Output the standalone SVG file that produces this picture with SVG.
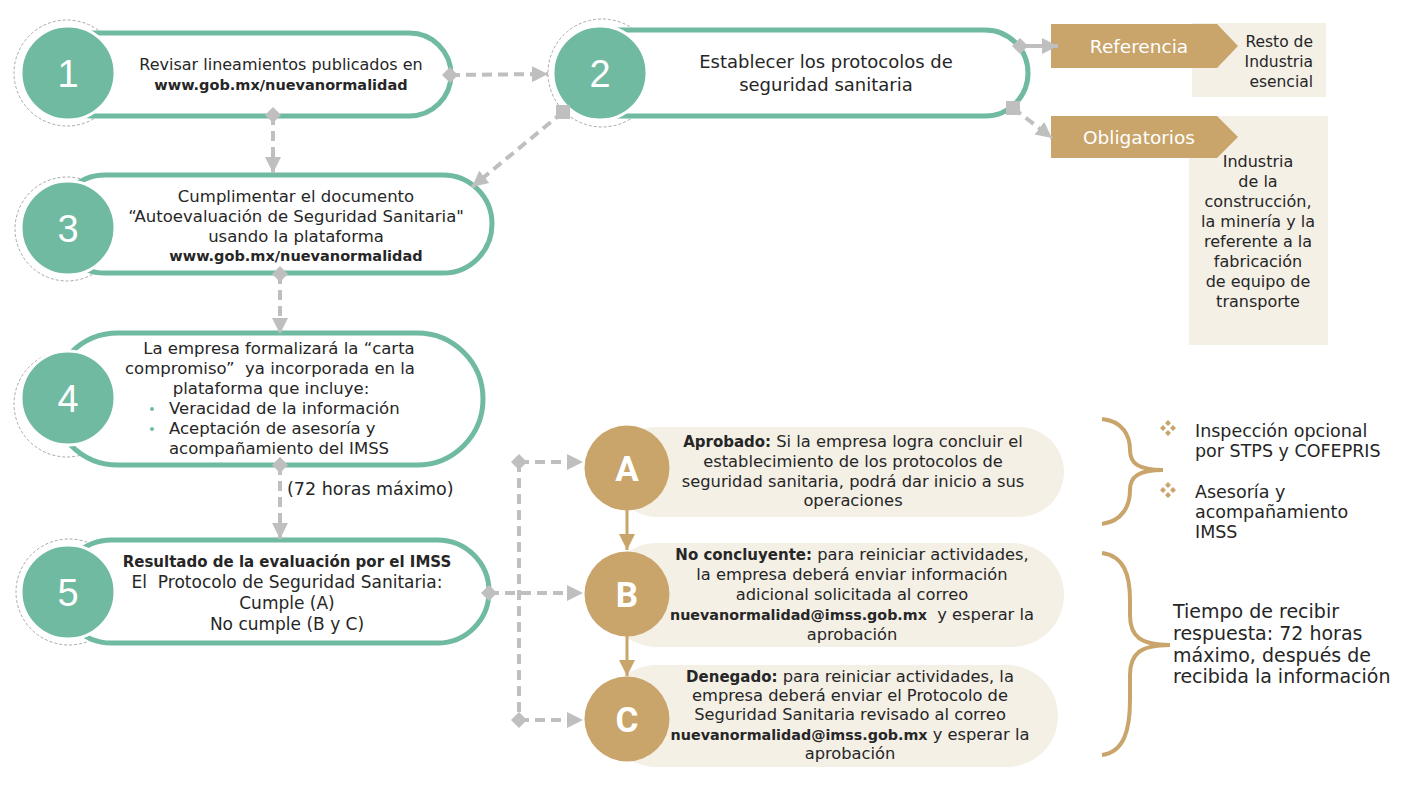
<svg xmlns="http://www.w3.org/2000/svg" width="1417" height="797" viewBox="0 0 1417 797">
<style>
.pill{fill:#fff;stroke:#6fbaa0;stroke-width:5}
.num{fill:#6fbaa0;stroke:#fff;stroke-width:3}
.ring{fill:none;stroke:#a9a9a9;stroke-width:1;stroke-dasharray:3 2}
.numt{font-family:"Liberation Sans",Arial,sans-serif;font-size:38px;fill:#fff;text-anchor:middle}
.t{font-family:"DejaVu Sans",sans-serif;fill:#262626}
.c{text-anchor:middle}
.e{text-anchor:end}
.b{font-weight:bold}
.conn{fill:none;stroke:#bfbfbf;stroke-width:4;stroke-dasharray:10 6}
.solid{fill:none;stroke:#bfbfbf;stroke-width:4}
.gpill{fill:#f4f0e6}
.gold{fill:#c9a56b}
.box{fill:#f4f0e6}
.lett{font-family:Roboto,"DejaVu Sans",sans-serif;font-weight:bold;font-size:35px;fill:#fff;text-anchor:middle}
.ban{font-family:"DejaVu Sans",sans-serif;font-size:18.5px;fill:#fff;text-anchor:middle}
.brace{fill:none;stroke:#c9a56b;stroke-width:4}
.garrow{fill:none;stroke:#c9a56b;stroke-width:3}
</style>
<defs>
<marker id="arr" markerUnits="userSpaceOnUse" markerWidth="16" markerHeight="16" refX="16" refY="8" orient="auto"><path d="M0,0 L16,8 L0,16 z" fill="#bfbfbf"/></marker>
<marker id="dia" markerUnits="userSpaceOnUse" markerWidth="16" markerHeight="16" refX="8" refY="8" orient="auto"><path d="M0,8 L8,0 L16,8 L8,16 z" fill="#bfbfbf"/></marker>
<marker id="sq" markerUnits="userSpaceOnUse" markerWidth="14" markerHeight="14" refX="7" refY="7" orient="0"><rect x="0" y="0" width="14" height="14" fill="#bfbfbf"/></marker>
<marker id="garr" markerUnits="userSpaceOnUse" markerWidth="16" markerHeight="16" refX="16" refY="8" orient="auto"><path d="M0,0 L16,8 L0,16 z" fill="#c9a56b"/></marker>
<g id="bul"><path d="M0,-8 L3,-5 L0,-2 L-3,-5 z M5,-3 L8,0 L5,3 L2,0 z M0,2 L3,5 L0,8 L-3,5 z M-5,-3 L-2,0 L-5,3 L-8,0 z" fill="#c9a56b"/></g>
</defs>
<rect width="1417" height="797" fill="#fff"/>

<g id="node1">
<circle class="ring" cx="67" cy="73" r="53"/>
<rect class="pill" x="50" y="33" width="401" height="83" rx="41.5"/>
<circle class="num" cx="68" cy="73" r="47"/>
<text class="numt" x="68" y="87">1</text>
<text class="t c" x="281" y="70" font-size="16">Revisar lineamientos publicados en</text>
<text class="t c b" x="281" y="90" font-size="14.5">www.gob.mx/nuevanormalidad</text>
</g>

<g id="node2">
<circle class="ring" cx="602" cy="73" r="54"/>
<rect class="pill" x="575" y="30" width="453" height="86" rx="43"/>
<circle class="num" cx="600" cy="73" r="47"/>
<text class="numt" x="600" y="87">2</text>
<text class="t c" x="826" y="68" font-size="18">Establecer los protocolos de</text>
<text class="t c" x="826" y="91" font-size="18">seguridad sanitaria</text>
</g>

<g id="node3">
<circle class="ring" cx="67" cy="229" r="52"/>
<rect class="pill" x="56" y="175" width="436" height="98" rx="49"/>
<circle class="num" cx="68" cy="228" r="47"/>
<text class="numt" x="68" y="242">3</text>
<text class="t c" x="296" y="202" font-size="16.5">Cumplimentar el documento</text>
<text class="t c" x="296" y="222" font-size="16.5">“Autoevaluación de Seguridad Sanitaria"</text>
<text class="t c" x="296" y="242" font-size="16.5">usando la plataforma</text>
<text class="t c b" x="296" y="261" font-size="14.5">www.gob.mx/nuevanormalidad</text>
</g>

<g id="node4">
<circle class="ring" cx="67" cy="404" r="53"/>
<rect class="pill" x="52" y="333" width="431" height="132" rx="66"/>
<circle class="num" cx="68" cy="398" r="47"/>
<text class="numt" x="68" y="412">4</text>
<text class="t c" x="279" y="354" font-size="16.5">La empresa formalizará la “carta</text>
<text class="t c" x="270" y="374" font-size="16.5" xml:space="preserve">compromiso”  ya incorporada en la</text>
<text class="t c" x="271" y="394" font-size="16.5">plataforma que incluye:</text>
<circle cx="152" cy="409" r="2" fill="#6fbaa0"/>
<circle cx="152" cy="429" r="2" fill="#6fbaa0"/>
<text class="t" x="169" y="414" font-size="16.5">Veracidad de la información</text>
<text class="t" x="169" y="434" font-size="16.5">Aceptación de asesoría y</text>
<text class="t" x="169" y="454" font-size="16.5">acompañamiento del IMSS</text>
</g>

<g id="node5">
<circle class="ring" cx="69" cy="592" r="53"/>
<rect class="pill" x="60" y="540" width="429" height="103" rx="51.5"/>
<circle class="num" cx="68" cy="592" r="47"/>
<text class="numt" x="68" y="606">5</text>
<text class="t c b" x="287" y="567" font-size="15">Resultado de la evaluación por el IMSS</text>
<text class="t c" x="287" y="588" font-size="17" xml:space="preserve">El  Protocolo de Seguridad Sanitaria:</text>
<text class="t c" x="287" y="609" font-size="17">Cumple (A)</text>
<text class="t c" x="287" y="630" font-size="17">No cumple (B y C)</text>
</g>

<g id="label72">
<text class="t" x="287" y="495" font-size="17.5">(72 horas máximo)</text>
</g>

<g id="referencia">
<rect class="box" x="1192" y="23" width="134" height="74"/>
<polygon class="gold" points="1051,24 1217,24 1238,46 1217,68 1051,68"/>
<text class="ban" x="1139" y="53">Referencia</text>
<text class="t e" x="1313" y="47" font-size="15.5">Resto de</text>
<text class="t e" x="1313" y="67" font-size="15.5">Industria</text>
<text class="t e" x="1313" y="87" font-size="15.5">esencial</text>
</g>

<g id="obligatorios">
<rect class="box" x="1189" y="116" width="139" height="229"/>
<polygon class="gold" points="1051,116 1217,116 1238,137 1217,158 1051,158"/>
<text class="ban" x="1139" y="144">Obligatorios</text>
<text class="t c" x="1258" y="167" font-size="16">Industria</text>
<text class="t c" x="1258" y="187" font-size="16">de la</text>
<text class="t c" x="1258" y="207" font-size="16">construcción,</text>
<text class="t c" x="1258" y="227" font-size="16">la minería y la</text>
<text class="t c" x="1258" y="247" font-size="16">referente a la</text>
<text class="t c" x="1258" y="267" font-size="16">fabricación</text>
<text class="t c" x="1258" y="287" font-size="16">de equipo de</text>
<text class="t c" x="1258" y="307" font-size="16">transporte</text>
</g>

<g id="nodeA">
<rect class="gpill" x="612" y="427" width="452" height="90" rx="45"/>
<circle class="gold" cx="627" cy="468" r="42.5"/>
<text class="lett" x="627" y="481">A</text>
<text class="t c" x="853" y="447" font-size="16.3"><tspan class="b" font-size="15">Aprobado:</tspan> Si la empresa logra concluir el</text>
<text class="t c" x="853" y="467" font-size="16.3">establecimiento de los protocolos de</text>
<text class="t c" x="853" y="487" font-size="16.3">seguridad sanitaria, podrá dar inicio a sus</text>
<text class="t c" x="853" y="506" font-size="16.3">operaciones</text>
</g>

<g id="nodeB">
<rect class="gpill" x="605" y="543" width="459" height="104" rx="52"/>
<circle class="gold" cx="627" cy="594" r="42.5"/>
<text class="lett" x="627" y="607">B</text>
<text class="t c" x="852" y="560" font-size="16.3"><tspan class="b" font-size="15">No concluyente:</tspan> para reiniciar actividades,</text>
<text class="t c" x="852" y="580" font-size="16.3">la empresa deberá enviar información</text>
<text class="t c" x="852" y="600" font-size="16.3">adicional solicitada al correo</text>
<text class="t c" x="852" y="620" font-size="16.3" xml:space="preserve"><tspan class="b" font-size="14.3">nuevanormalidad@imss.gob.mx</tspan>  y esperar la</text>
<text class="t c" x="852" y="640" font-size="16.3">aprobación</text>
</g>

<g id="nodeC">
<rect class="gpill" x="605" y="665" width="453" height="102" rx="51"/>
<circle class="gold" cx="627" cy="719" r="42.5"/>
<text class="lett" x="627" y="732">C</text>
<text class="t c" x="850" y="682" font-size="16.3"><tspan class="b" font-size="15">Denegado:</tspan> para reiniciar actividades, la</text>
<text class="t c" x="850" y="701" font-size="16.3">empresa deberá enviar el Protocolo de</text>
<text class="t c" x="850" y="720" font-size="16.3">Seguridad Sanitaria revisado al correo</text>
<text class="t c" x="850" y="740" font-size="16.3"><tspan class="b" font-size="14.3">nuevanormalidad@imss.gob.mx</tspan> y esperar la</text>
<text class="t c" x="850" y="759" font-size="16.3">aprobación</text>
</g>

<g id="note-inspeccion">
<path class="brace" d="M1102,419 C1123,421 1130,436 1130,450 C1130,463 1138,470 1163,470 C1138,470 1130,477 1130,490 C1130,505 1123,521 1102,524"/>
<use href="#bul" x="1168" y="428"/>
<use href="#bul" x="1168" y="490"/>
<text class="t" x="1195" y="437" font-size="17.5">Inspección opcional</text>
<text class="t" x="1195" y="457" font-size="17.5">por STPS y COFEPRIS</text>
<text class="t" x="1195" y="498" font-size="17.5">Asesoría y</text>
<text class="t" x="1195" y="518" font-size="17.5">acompañamiento</text>
<text class="t" x="1195" y="538" font-size="17.5">IMSS</text>
</g>

<g id="note-tiempo">
<path class="brace" d="M1102,553 C1124,556 1130,575 1130,600 L1130,615 C1130,636 1140,645 1170,645 C1140,645 1130,654 1130,675 L1130,700 C1130,730 1124,752 1102,755"/>
<text class="t" x="1173" y="618" font-size="19">Tiempo de recibir</text>
<text class="t" x="1173" y="640" font-size="19">respuesta: 72 horas</text>
<text class="t" x="1173" y="662" font-size="19">máximo, después de</text>
<text class="t" x="1173" y="683" font-size="19">recibida la información</text>
</g>

<g id="connectors">
<path class="conn" d="M450,75 L548,74" marker-start="url(#dia)" marker-end="url(#arr)"/>
<path class="conn" d="M273,115 L273,173" marker-start="url(#dia)" marker-end="url(#arr)"/>
<path class="conn" d="M563,112 L472,187" marker-start="url(#sq)" marker-end="url(#arr)"/>
<path class="conn" d="M280,274 L280,334" marker-start="url(#dia)" marker-end="url(#arr)"/>
<path class="conn" d="M280,465 L280,539" marker-start="url(#dia)" marker-end="url(#arr)"/>
<path class="solid" d="M1020,46 L1058,46" marker-start="url(#dia)" marker-end="url(#arr)"/>
<path class="conn" d="M1013,108 L1052,138" marker-start="url(#sq)" marker-end="url(#arr)"/>
<path class="conn" d="M489,593 L583,593" marker-start="url(#dia)" marker-end="url(#arr)"/>
<path class="conn" d="M519,462 L519,720"/>
<path class="conn" d="M519,462 L583,462" marker-start="url(#dia)" marker-end="url(#arr)"/>
<path class="conn" d="M519,720 L583,720" marker-start="url(#dia)" marker-end="url(#arr)"/>
<path class="garrow" d="M627,510 L627,550" marker-end="url(#garr)"/>
<path class="garrow" d="M627,636 L627,676" marker-end="url(#garr)"/>
</g>
</svg>
